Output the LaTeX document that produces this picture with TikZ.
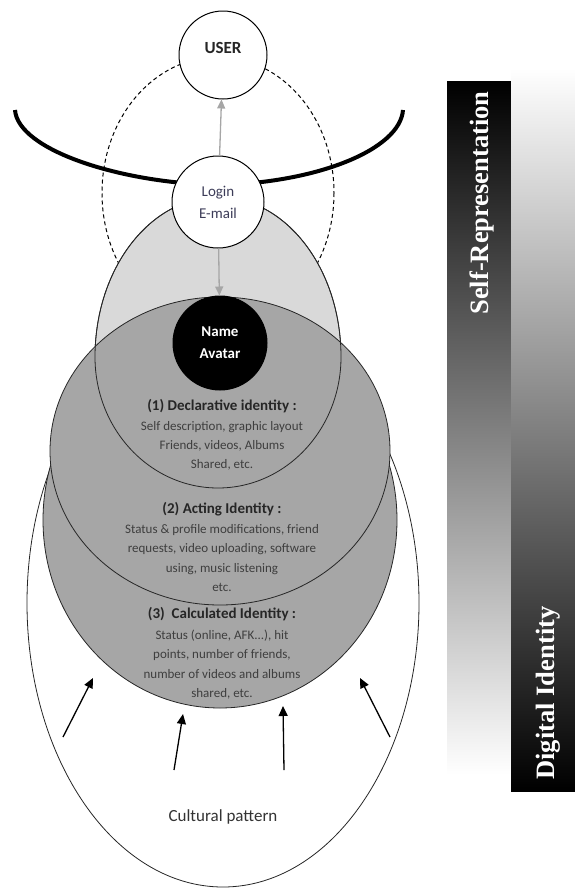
\documentclass[tikz,border=0pt]{standalone}
\usepackage{fontspec}
\setmainfont{Carlito}
\newfontfamily\barfont{Liberation Serif}
\usetikzlibrary{arrows.meta,positioning}

\definecolor{lightfill}{RGB}{217,217,217}
\definecolor{darkfill}{RGB}{166,166,166}
\definecolor{txtgray}{RGB}{62,62,62}
\definecolor{logintxt}{RGB}{60,60,88}

\tikzset{
  ring/.style={draw=black!85, line width=0.8pt},
  idcircle/.style={circle, draw, line width=1pt, fill=white, minimum size=92pt, inner sep=0pt, align=center},
  greyarrow/.style={draw=darkfill, line width=1.3pt, -{Triangle[length=9pt,width=8pt]}},
  culture/.style={line width=1.3pt, -{Triangle[length=10pt,width=9pt]}},
  heading/.style={font=\fontsize{15}{18}\selectfont\bfseries, text=black!85},
  body/.style={font=\fontsize{13}{19.2}\selectfont, text=txtgray, align=center},
  bartext/.style={rotate=90, text=white, font=\barfont\fontsize{26.5}{30}\selectfont\bfseries}
}

\begin{document}
\begin{tikzpicture}[x=1pt,y=-1pt]
\useasboundingbox (0,0) rectangle (575,889);

% gradient bars
\shade[top color=black, middle color=black!20, bottom color=white] (447,81) rectangle (511,775);
\shade[top color=white, middle color=black!25, bottom color=black] (511,68) rectangle (575,791);
\node[bartext] (selfrep) at (482,203) {Self-Representation};
\node[bartext] (digid) at (548,693) {Digital Identity};

% cultural pattern
\draw[ring, fill=white] (223,603) ellipse [x radius=196, y radius=284];
\draw[line width=1pt, dash pattern=on 4pt off 3pt] (218,193) ellipse [x radius=116, y radius=136];
\draw[ring, fill=lightfill] (95,357) arc [start angle=180, end angle=360, x radius=123, y radius=160]
  arc [start angle=0, end angle=180, x radius=123, y radius=131] -- cycle;
\draw[line width=4pt] (15,110) .. controls (18,150) and (120,183) .. (218,185)
  .. controls (316,183) and (400,150) .. (403,110);

% identities
\draw[ring, fill=darkfill] (220,520) ellipse [x radius=177, y radius=188];
\draw[ring, fill=darkfill] (220,451) ellipse [x radius=170, y radius=154];
\draw[ring] (95,357) arc [start angle=180, end angle=360, x radius=123, y radius=160]
  arc [start angle=0, end angle=180, x radius=123, y radius=131] -- cycle;

\node[idcircle, minimum size=88pt] (user) at (223,55) {};
\node[font=\fontsize{17}{20}\selectfont\bfseries, text=black!85] (usertext) at (223,48) {USER};
\node[idcircle, text=logintxt, font=\fontsize{15}{22}\selectfont] (login) at (218,202) {Login\\E-mail};
\node[idcircle, fill=black, text=white, minimum size=94pt, font=\fontsize{15}{22}\selectfont\bfseries] (avatar) at (220,343) {Name\\Avatar};

\draw[greyarrow] (login) -- (user);
\draw[greyarrow] (login) -- (avatar);

\node[heading] (declhead) at (222,406) {(1) Declarative identity :};
\node[body] (decltext) at (222,446) {Self description, graphic layout\\Friends, videos, Albums\\Shared, etc.};
\node[heading] (acthead) at (222,509) {(2) Acting Identity :};
\node[body] (acttext) at (222,558) {Status \& profile modifications, friend\\requests, video uploading, software\\using, music listening\\etc.};
\node[heading] (calchead) at (222,614) {(3)\ \ Calculated Identity :};
\node[body] (calctext) at (222,664.5) {Status (online, AFK...), hit\\points, number of friends,\\number of videos and albums\\shared, etc.};

% outside influences
\coordinate (pat1) at (63,737);  \coordinate (tip1) at (93,678);
\coordinate (pat2) at (174,770); \coordinate (tip2) at (183,714);
\coordinate (pat3) at (284,770); \coordinate (tip3) at (283,706);
\coordinate (pat4) at (390,737); \coordinate (tip4) at (360,678);
\foreach \i in {1,...,4} \draw[culture] (pat\i) -- (tip\i);
\node[font=\fontsize{17}{20}\selectfont, text=black!80] (culttext) at (223,817) {Cultural pattern};
\end{tikzpicture}
\end{document}
